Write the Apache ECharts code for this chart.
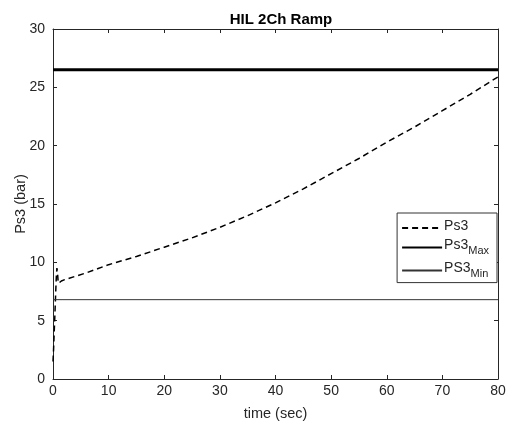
<!DOCTYPE html>
<html>
<head>
<meta charset="utf-8">
<script src="https://cdn.jsdelivr.net/npm/echarts@6/dist/echarts.min.js"></script>
<style>
  html, body { margin: 0; padding: 0; background: #fff; }
  #chart { width: 508px; height: 421px; }
</style>
</head>
<body>
<div id="chart"></div>
<script>
// Pressure trace Ps3 over time, with its upper and lower limits
const timeSec = [0, 0.1, 0.2, 0.3, 0.4, 0.5, 0.6, 0.7, 0.8, 0.9, 1.0, 1.2, 1.5, 2, 4, 6, 8, 10, 15, 20, 25, 30, 35, 40, 45, 50, 55, 60, 65, 70, 75, 80];
const ps3 = [1.5, 2.5, 3.8, 5.0, 6.3, 7.6, 8.8, 9.5, 9.2, 8.5, 8.2, 8.3, 8.4, 8.5, 8.8, 9.1, 9.45, 9.8, 10.5, 11.3, 12.1, 13.0, 14.0, 15.1, 16.3, 17.6, 18.9, 20.3, 21.6, 23.0, 24.4, 25.9];
const limitTime = [0, 80];
const ps3Max = [26.5, 26.5];
const ps3Min = [6.8, 6.8];
const xTicks = { min: 0, max: 80, interval: 10 };
const yTicks = { min: 0, max: 30, interval: 5 };

const pairs = (xs, ys) => xs.map((x, i) => [x, ys[i]]);

const axisColor = '#262626';
const font = 'Liberation Sans, Arial, sans-serif';

const chart = echarts.init(document.getElementById('chart'), null, { renderer: 'canvas' });

const tickStyle = { show: true, inside: true, length: 4, lineStyle: { color: axisColor, width: 1 } };

chart.setOption({
  animation: false,
  backgroundColor: '#fff',
  color: ['#000', '#000', '#333'],
  title: {
    text: 'HIL 2Ch Ramp',
    left: 276, top: 7, textAlign: 'center',
    textStyle: { fontFamily: font, fontSize: 15, fontWeight: 'bold', color: '#000' }
  },
  grid: { left: 53, right: 10, top: 29, bottom: 42, containLabel: false, outerBoundsMode: 'none' },
  xAxis: [{
    type: 'value', min: xTicks.min, max: xTicks.max, interval: xTicks.interval,
    name: 'time (sec)', nameLocation: 'middle', nameGap: 27, nameMoveOverlap: false,
    nameTextStyle: { fontFamily: font, fontSize: 14.5, color: axisColor },
    axisLine: { show: true, onZero: false, lineStyle: { color: axisColor, width: 1 } },
    axisTick: tickStyle,
    axisLabel: { fontFamily: font, fontSize: 14, color: axisColor, margin: 5 },
    splitLine: { show: false }
  }, {
    type: 'value', position: 'top', min: xTicks.min, max: xTicks.max, interval: xTicks.interval,
    axisLine: { show: true, onZero: false, lineStyle: { color: axisColor, width: 1 } },
    axisTick: tickStyle, axisLabel: { show: false }, splitLine: { show: false }
  }],
  yAxis: [{
    type: 'value', min: yTicks.min, max: yTicks.max, interval: yTicks.interval,
    name: 'Ps3 (bar)', nameLocation: 'middle', nameGap: 25, nameRotate: 90, nameMoveOverlap: false,
    nameTextStyle: { fontFamily: font, fontSize: 14.5, color: axisColor },
    axisLine: { show: true, onZero: false, lineStyle: { color: axisColor, width: 1 } },
    axisTick: tickStyle,
    axisLabel: { fontFamily: font, fontSize: 14, color: axisColor, margin: 8 },
    splitLine: { show: false }
  }, {
    type: 'value', position: 'right', min: yTicks.min, max: yTicks.max, interval: yTicks.interval,
    axisLine: { show: true, onZero: false, lineStyle: { color: axisColor, width: 1 } },
    axisTick: tickStyle, axisLabel: { show: false }, splitLine: { show: false }
  }],
  legend: {
    orient: 'vertical',
    right: 11, top: 213,
    padding: [6, 8, 3, 4],
    itemGap: 4,
    itemWidth: 40, itemHeight: 14,
    backgroundColor: '#fff',
    borderColor: '#333', borderWidth: 1, borderRadius: 0,
    itemStyle: { opacity: 0 },
    data: ['Ps3', 'Ps3Max', 'PS3Min'],
    formatter: name => {
      if (name === 'Ps3Max') return '{m|Ps3}{s|Max}';
      if (name === 'PS3Min') return '{m|PS3}{s|Min}';
      return '{m|Ps3}';
    },
    textStyle: {
      fontFamily: font, color: axisColor, padding: [0, 0, 0, -3],
      rich: {
        m: { fontFamily: font, fontSize: 14, color: axisColor, lineHeight: 18, verticalAlign: 'top' },
        s: { fontFamily: font, fontSize: 11, color: axisColor, lineHeight: 11, padding: [8, 0, 0, 0], verticalAlign: 'bottom' }
      }
    }
  },
  series: [{
    name: 'Ps3', type: 'line', xAxisIndex: 0, yAxisIndex: 0,
    data: pairs(timeSec, ps3), showSymbol: false, symbol: 'none',
    lineStyle: { color: '#000', width: 1.5, type: [6, 4] }
  }, {
    name: 'Ps3Max', type: 'line', xAxisIndex: 0, yAxisIndex: 0,
    data: pairs(limitTime, ps3Max), showSymbol: false, symbol: 'none',
    lineStyle: { color: '#000', width: 3 }
  }, {
    name: 'PS3Min', type: 'line', xAxisIndex: 0, yAxisIndex: 0,
    data: pairs(limitTime, ps3Min), showSymbol: false, symbol: 'none',
    lineStyle: { color: '#333', width: 1 }
  }]
});
</script>
</body>
</html>
